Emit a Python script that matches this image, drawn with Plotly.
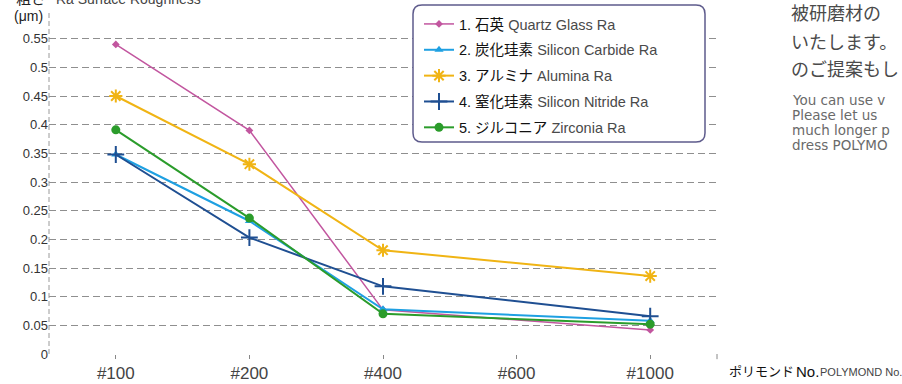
import plotly.graph_objects as go

categories = ["#100", "#200", "#400", "#600", "#1000"]
measured = ["#100", "#200", "#400", "#1000"]

quartz = [0.540, 0.390, 0.077, 0.042]
sic = [0.348, 0.232, 0.078, 0.058]
alumina = [0.450, 0.331, 0.181, 0.136]
nitride = [0.348, 0.203, 0.118, 0.066]
zirconia = [0.391, 0.237, 0.070, 0.052]

ytickvals = [0, 0.05, 0.1, 0.15, 0.2, 0.25, 0.3, 0.35, 0.4, 0.45, 0.5, 0.55]
yticktext = ["0", "0.05", "0.1", "0.15", "0.2", "0.25", "0.3", "0.35", "0.4", "0.45", "0.5", "0.55"]

FONT = "Liberation Sans, Noto Sans CJK JP, sans-serif"
WIDE = "DejaVu Sans, Noto Sans CJK JP, sans-serif"
EN = "#4a4a4a"

series = [
    ("1. 石英 <span style='color:%s'>Quartz Glass Ra</span>" % EN, quartz, "#c2569f", "diamond", 6, 1.5),
    ("2. 炭化珪素 <span style='color:%s'>Silicon Carbide Ra</span>" % EN, sic, "#1ea0e2", "triangle-up", 8, 2),
    ("3. アルミナ <span style='color:%s'>Alumina Ra</span>" % EN, alumina, "#f0b414", "asterisk-open", 11, 2),
    ("4. 窒化珪素 <span style='color:%s'>Silicon Nitride Ra</span>" % EN, nitride, "#1f4f92", "cross-thin-open", 12, 2),
    ("5. ジルコニア <span style='color:%s'>Zirconia Ra</span>" % EN, zirconia, "#2b9c2b", "circle", 9, 2),
]

fig = go.Figure()
for i, (name, vals, color, sym, size, lw) in enumerate(series):
    fig.add_trace(go.Scatter(
        x=measured, y=vals, name=name, mode="lines+markers",
        line=dict(color=color, width=lw),
        marker=dict(symbol=sym, size=size, color=color, line=dict(color=color, width=2 if "open" in sym else 0)),
        legendgroup="g%d" % i,
    ))

L, R, T, B = 49, 185, 10, 30
W, H = 902, 384
pw, ph = W - L - R, H - T - B

def px(x):
    return (x - L) / pw

def py(y):
    return (H - B - y) / ph

# rounded legend box
x0, x1, y0, y1 = px(413), px(705), py(142), py(5)
rx, ry = 9 / pw, 9 / ph
path = (f"M {x0+rx},{y0} L {x1-rx},{y0} Q {x1},{y0} {x1},{y0+ry} "
        f"L {x1},{y1-ry} Q {x1},{y1} {x1-rx},{y1} L {x0+rx},{y1} "
        f"Q {x0},{y1} {x0},{y1-ry} L {x0},{y0+ry} Q {x0},{y0} {x0+rx},{y0} Z")

def ann(text, x, y, size, color, anchor="left", family=FONT):
    return dict(text=text, xref="paper", yref="paper", x=px(x), y=py(y), xanchor=anchor, yanchor="middle",
                showarrow=False, font=dict(size=size, color=color, family=family))

fig.update_layout(
    width=W, height=H,
    margin=dict(l=L, r=R, t=T, b=B, autoexpand=False),
    paper_bgcolor="white", plot_bgcolor="white",
    font=dict(family=FONT, color="#222"),
    showlegend=True,
    legend=dict(x=px(419), y=py(8), xanchor="left", yanchor="top",
                bgcolor="rgba(0,0,0,0)", borderwidth=0,
                font=dict(size=14.5, color="#111", family=FONT),
                tracegroupgap=4, itemwidth=30),
    xaxis=dict(type="category", categoryorder="array", categoryarray=categories,
               range=[-0.5, 4.5], showgrid=False, zeroline=False, showline=False, automargin=False,
               ticks="outside", ticklen=4, tickcolor="#888",
               tickfont=dict(size=17, color="#444", family=FONT)),
    yaxis=dict(range=[0, 0.6], tickvals=ytickvals, ticktext=yticktext, automargin=False,
               showgrid=True, gridcolor="#8f8f8f", griddash="7px,4px", gridwidth=1,
               zeroline=False, showline=False, ticks="",
               tickfont=dict(size=13, color="#333", family=FONT)),
    shapes=[
        dict(type="line", xref="paper", yref="paper", x0=0, x1=0, y0=0, y1=1,
             line=dict(color="#9a9a9a", width=1, dash="5px,3px")),
        dict(type="line", xref="paper", yref="paper", x0=1, x1=1, y0=0, y1=-0.015,
             line=dict(color="#888", width=1)),
        dict(type="path", xref="paper", yref="paper", path=path, layer="above",
             fillcolor="white", line=dict(color="#5e5b8c", width=1.5)),
    ],
    annotations=[
        ann("粗さ", 48, -1, 15, "#222", "right"),
        ann("Ra Surface Roughness", 54, -1, 14, "#444"),
        ann("(μm)", 45, 16, 14, "#222", "right"),
        ann("ポリモンド", 727, 371, 13, "#111"),
        ann("No.", 794, 371, 15, "#111"),
        ann("POLYMOND No.", 818, 372, 11, "#444"),
        ann("被研磨材の", 789, 14, 18, "#4a4a4a"),
        ann("いたします。", 789, 43, 18, "#4a4a4a"),
        ann("のご提案もし", 789, 70, 18, "#4a4a4a"),
        ann("You can use v", 790, 100, 13.5, "#6a6a6a", family=WIDE),
        ann("Please let us", 790, 115, 13.5, "#6a6a6a", family=WIDE),
        ann("much longer p", 790, 130, 13.5, "#6a6a6a", family=WIDE),
        ann("dress POLYMO", 790, 145, 13.5, "#6a6a6a", family=WIDE),
    ],
)

fig.write_html("out.html", config={"displayModeBar": False},
               post_script="document.body.style.margin='0';")
